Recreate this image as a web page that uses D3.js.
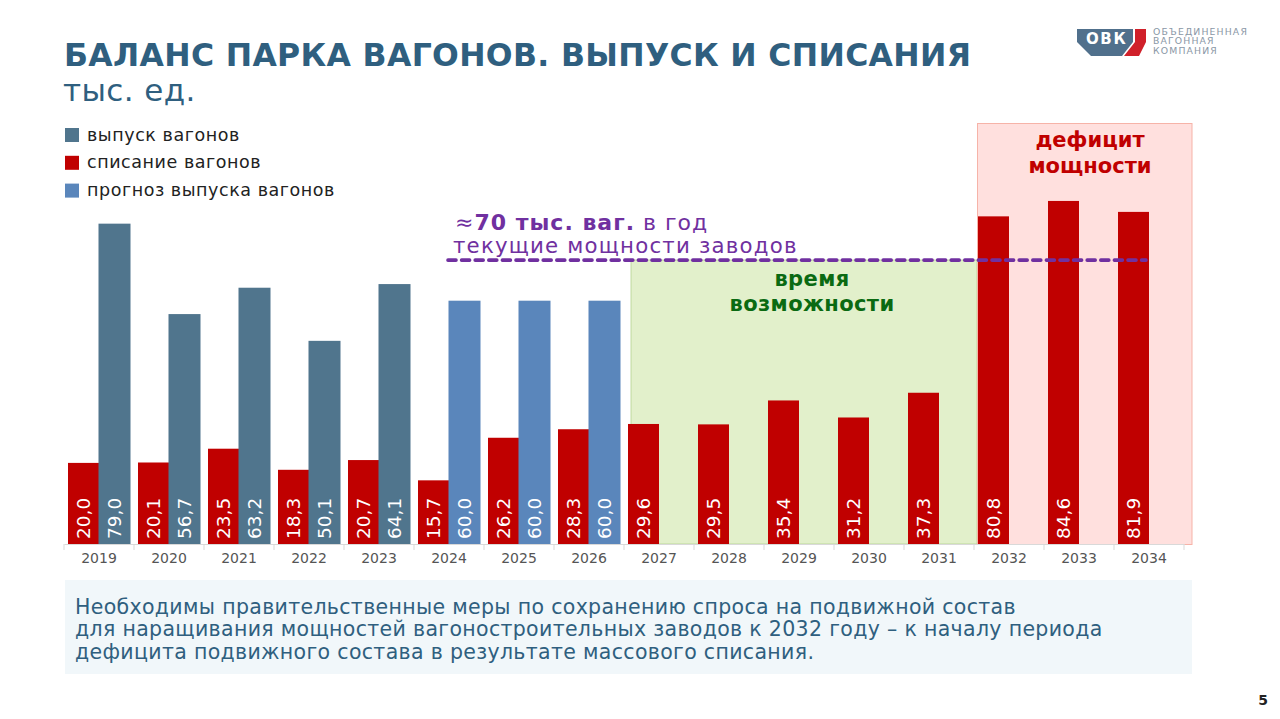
<!DOCTYPE html>
<html>
<head>
<meta charset="utf-8">
<script src="https://cdnjs.cloudflare.com/ajax/libs/d3/7.8.5/d3.min.js"></script>
<style>
html, body { margin: 0; padding: 0; background: #fff; }
svg { display: block; font-family: "DejaVu Sans", sans-serif; }
</style>
</head>
<body>
<div id="chart-area"></div>
<script>
// Chart data
const years = ["2019","2020","2021","2022","2023","2024","2025","2026","2027","2028","2029","2030","2031","2032","2033","2034"];
const writeOffs = [20.0,20.1,23.5,18.3,20.7,15.7,26.2,28.3,29.6,29.5,35.4,31.2,37.3,80.8,84.6,81.9];
const output = [79.0,56.7,63.2,50.1,64.1,60.0,60.0,60.0];
const forecastYears = ["2024","2025","2026"];
const capacity = 70;
const legendLabels = ["выпуск вагонов","списание вагонов","прогноз выпуска вагонов"];
const noteLines = [
	"Необходимы правительственные меры по сохранению спроса на подвижной состав",
	"для наращивания мощностей вагоностроительных заводов к 2032 году – к началу периода",
	"дефицита подвижного состава в результате массового списания."
];

const colRed = "#c00000", colSteel = "#50758d", colBlue = "#5a86bb", colPurple = "#7030a0", colTitle = "#2f5f7f";

let svg = d3.select("#chart-area").append("svg")
	.attr("width", 1280)
	.attr("height", 719);

// Scales
let xScale = d3.scaleBand().domain(years).range([64, 1184]);
let yScale = d3.scaleLinear().domain([0, 100]).range([544, 138.5]);
let barWidth = 31;

const fmt = v => v.toFixed(1).replace(".", ",");

// Title
svg.append("text").attr("x", 64).attr("y", 65.5)
	.attr("font-size", 31.5).attr("font-weight", "bold").attr("letter-spacing", 0.33).attr("fill", colTitle)
	.text("БАЛАНС ПАРКА ВАГОНОВ. ВЫПУСК И СПИСАНИЯ");
svg.append("text").attr("x", 63).attr("y", 101)
	.attr("font-size", 31).attr("letter-spacing", 0.4).attr("fill", colTitle)
	.text("тыс. ед.");

// Logo
let logo = svg.append("g").attr("class", "logo");
logo.append("path").attr("d", "M1077 29H1133V42L1122 56H1091L1077 42Z").attr("fill", "#50708c");
logo.append("path").attr("d", "M1135 29H1146V42L1139 56H1124L1135 42Z").attr("fill", "#d0202a");
logo.append("text").attr("x", 1086).attr("y", 44)
	.attr("font-size", 15).attr("font-weight", "bold").attr("letter-spacing", 1.6).attr("fill", "#fff").text("ОВК");
["ОБЪЕДИНЕННАЯ","ВАГОННАЯ","КОМПАНИЯ"].forEach((t, i) => {
	logo.append("text").attr("x", 1153).attr("y", 35 + i * 9.3)
		.attr("font-size", 9.3).attr("letter-spacing", 1.15).attr("fill", "#8a97a6").text(t);
});

// Legend
[colSteel, colRed, colBlue].forEach((c, i) => {
	svg.append("rect").attr("x", 65).attr("y", 128 + i * 27.8).attr("width", 14).attr("height", 14).attr("fill", c);
	svg.append("text").attr("x", 87).attr("y", 140.5 + i * 27.8)
		.attr("font-size", 17.5).attr("letter-spacing", 0.55).attr("fill", "#222").text(legendLabels[i]);
});

// Highlight zones
svg.append("rect").attr("x", 631).attr("y", 260).attr("width", 346).attr("height", 284)
	.attr("fill", "#e2f0cb").attr("stroke", "#b5d28f").attr("stroke-width", 0.8);
svg.append("rect").attr("x", 977.5).attr("y", 123.5).attr("width", 214.5).attr("height", 421)
	.attr("fill", "#ffe0de").attr("stroke", "#f6b3a8").attr("stroke-width", 1);

// Bars
svg.append("g").selectAll("rect").data(years).enter().append("rect")
	.attr("x", d => xScale(d) + xScale.bandwidth() / 2 - barWidth)
	.attr("y", (d, i) => yScale(writeOffs[i]))
	.attr("width", barWidth)
	.attr("height", (d, i) => yScale(0) - yScale(writeOffs[i]))
	.attr("fill", colRed);
svg.append("g").selectAll("rect").data(output).enter().append("rect")
	.attr("x", (d, i) => xScale(years[i]) + xScale.bandwidth() / 2 - 0.5)
	.attr("y", d => yScale(d))
	.attr("width", barWidth + 1)
	.attr("height", d => yScale(0) - yScale(d))
	.attr("fill", (d, i) => forecastYears.includes(years[i]) ? colBlue : colSteel);

// Bar labels
function barLabel(v, cx) {
	svg.append("text")
		.attr("transform", "translate(" + cx + ",539) rotate(-90)")
		.attr("dy", "0.36em")
		.attr("font-size", 18.5).attr("fill", "#fff")
		.text(fmt(v));
}
years.forEach((y, i) => barLabel(writeOffs[i], xScale(y) + xScale.bandwidth() / 2 - barWidth / 2));
output.forEach((v, i) => barLabel(v, xScale(years[i]) + xScale.bandwidth() / 2 + barWidth / 2));

// Axis
let xAxis = d3.axisBottom(xScale).tickSize(0).tickPadding(9);
let axisG = svg.append("g").attr("transform", "translate(0,544)").call(xAxis);
axisG.select(".domain").attr("stroke", "#d9d9d9");
axisG.selectAll("text").attr("font-size", 14).attr("font-family", "'DejaVu Sans', sans-serif").attr("fill", "#555");
svg.append("g").selectAll("line").data(years.concat(["end"])).enter().append("line")
	.attr("x1", d => d === "end" ? 1184 : xScale(d)).attr("x2", d => d === "end" ? 1184 : xScale(d))
	.attr("y1", 544).attr("y2", 550).attr("stroke", "#d9d9d9");

// Capacity line
svg.append("line")
	.attr("x1", 448).attr("x2", 1146)
	.attr("y1", yScale(capacity)).attr("y2", yScale(capacity))
	.attr("stroke", colPurple).attr("stroke-width", 3.6)
	.attr("stroke-dasharray", "8 5.6").attr("stroke-linecap", "round");

let capText = svg.append("text").attr("x", 455).attr("y", 230).attr("font-size", 22).attr("letter-spacing", 1).attr("fill", colPurple);
capText.append("tspan").text("≈");
capText.append("tspan").attr("font-weight", "bold").text("70 тыс. ваг.");
capText.append("tspan").text(" в год");
svg.append("text").attr("x", 453).attr("y", 253).attr("font-size", 21.3).attr("letter-spacing", 1.2).attr("fill", colPurple)
	.text("текущие мощности заводов");

// Zone captions
[["время", 286], ["возможности", 311]].forEach(d => {
	svg.append("text").attr("x", 812).attr("y", d[1]).attr("text-anchor", "middle")
		.attr("font-size", 21).attr("font-weight", "bold").attr("letter-spacing", 0.4).attr("fill", "#0a6a12").text(d[0]);
});
[["дефицит", 147], ["мощности", 172.5]].forEach(d => {
	svg.append("text").attr("x", 1090).attr("y", d[1]).attr("text-anchor", "middle")
		.attr("font-size", 21).attr("font-weight", "bold").attr("fill", colRed).text(d[0]);
});

// Note box
svg.append("rect").attr("x", 65).attr("y", 580).attr("width", 1127).attr("height", 94).attr("fill", "#f1f7fa");
noteLines.forEach((t, i) => {
	svg.append("text").attr("x", 75).attr("y", 613.5 + i * 22.5)
		.attr("font-size", 20.5).attr("letter-spacing", 0.33).attr("fill", colTitle).text(t);
});

// Page number
svg.append("text").attr("x", 1263).attr("y", 705).attr("text-anchor", "middle")
	.attr("font-size", 14).attr("font-weight", "bold").attr("fill", "#222").text("5");
</script>
</body>
</html>
